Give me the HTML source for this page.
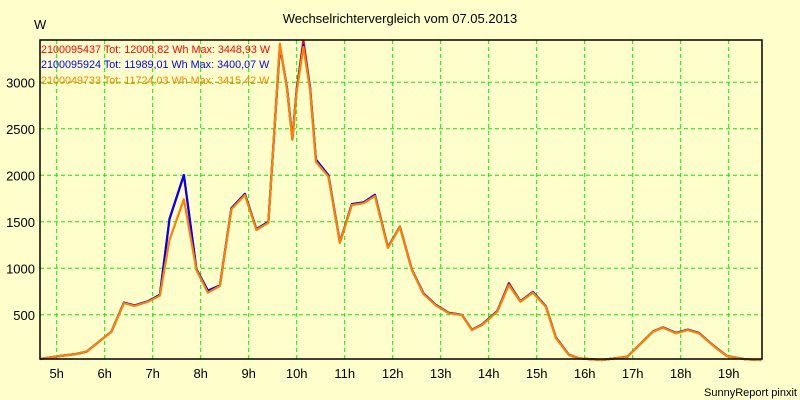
<!DOCTYPE html>
<html><head><meta charset="utf-8"><style>
body{margin:0;background:#ffffcc;}
svg{display:block;font-family:"Liberation Sans",sans-serif;}
</style></head><body>
<svg id="chart" width="800" height="400">
<rect x="0" y="0" width="800" height="400" fill="#ffffcc"/>
<text x="400" y="23" text-anchor="middle" font-size="13" fill="#000">Wechselrichtervergleich vom 07.05.2013</text>
<text x="34" y="29" font-size="13" fill="#000">W</text>
<g id="grid"></g>
<g id="yticks"></g>
<g id="xticks"></g>
<g id="series"></g>
<rect x="40" y="40" width="722" height="319" fill="none" stroke="#000" stroke-width="1.5"/>
<g font-size="10.8">
<text x="41" y="53" fill="#ff0000">2100095437 Tot: 12008,82 Wh Max: 3448,93 W</text>
<text x="41" y="68" fill="#0000ff">2100095924 Tot: 11989,01 Wh Max: 3400,07 W</text>
<text x="41" y="84" fill="#ff8000">2100049733 Tot: 11724,03 Wh Max: 3415,42 W</text>
</g>
<text x="797" y="396" text-anchor="end" font-size="11" fill="#000">SunnyReport pinxit</text>
</svg>
<script>
const times=[4.65,5.07,5.4,5.62,6.14,6.4,6.62,6.9,7.15,7.35,7.65,7.91,8.15,8.4,8.64,8.92,9.16,9.41,9.65,9.7,9.8,9.91,10.0,10.14,10.28,10.4,10.66,10.9,11.15,11.4,11.63,11.9,12.15,12.4,12.64,12.9,13.17,13.44,13.65,13.86,14.18,14.42,14.66,14.92,15.19,15.4,15.67,15.88,16.36,16.89,17.15,17.42,17.63,17.9,18.15,18.38,18.7,18.96,19.35,19.68];
const orangeVals=[25,57,78,103,318,625,595,640,705,1304,1742,982,738,810,1634,1788,1412,1490,3415,3240,2916,2380,2900,3380,2916,2146,1985,1272,1681,1700,1777,1218,1447,980,724,600,516,498,337,390,533,820,641,738,587,250,68,32,14,50,180,318,361,301,336,301,157,57,22,14];
const blueVals=[25,57,78,103,318,630,600,645,715,1530,2003,990,760,815,1645,1800,1420,1500,3390,3240,2930,2390,2920,3400,2940,2170,2000,1280,1690,1710,1790,1225,1450,985,730,605,520,500,340,395,540,830,645,745,592,255,70,32,14,50,182,320,365,305,340,305,160,58,22,14];
const redVals=[25,57,78,103,318,630,600,645,715,1530,2003,990,760,815,1645,1800,1420,1500,3390,3240,2930,2390,2930,3449,2940,2170,2000,1280,1690,1710,1790,1225,1450,985,730,605,520,500,340,395,540,840,645,745,592,255,70,32,14,50,182,320,365,305,340,305,160,58,22,14];
const yTicks=[500,1000,1500,2000,2500,3000];
const xHours=[5,6,7,8,9,10,11,12,13,14,15,16,17,18,19];
const NS="http://www.w3.org/2000/svg";
function xs(h){return 56.7+(h-5)*48;}
function ys(v){return 361.3-v*0.093;}
const grid=document.getElementById('grid'),yt=document.getElementById('yticks'),xt=document.getElementById('xticks'),ser=document.getElementById('series');
yTicks.forEach(v=>{
 const l=document.createElementNS(NS,'line');
 
 
 l.setAttribute('x1',40);l.setAttribute('x2',762);l.setAttribute('y1',ys(v));l.setAttribute('y2',ys(v));
 l.setAttribute('stroke','#00ee00');l.setAttribute('stroke-dasharray','4,3');grid.appendChild(l);
 const t=document.createElementNS(NS,'text');
 
 
 t.setAttribute('x',35);t.setAttribute('y',ys(v)+5);t.setAttribute('text-anchor','end');t.setAttribute('font-size','13');
 t.textContent=v;yt.appendChild(t);
});
xHours.forEach(h=>{
 const l=document.createElementNS(NS,'line');
 
 
 l.setAttribute('x1',xs(h));l.setAttribute('x2',xs(h));l.setAttribute('y1',40);l.setAttribute('y2',359);
 l.setAttribute('stroke','#00ee00');l.setAttribute('stroke-dasharray','4,3');grid.appendChild(l);
 const t=document.createElementNS(NS,'text');
 
 
 t.setAttribute('x',xs(h));t.setAttribute('y',378);t.setAttribute('text-anchor','middle');t.setAttribute('font-size','13');
 t.textContent=h+'h';xt.appendChild(t);
});
[[redVals,'#ff0000','series-red'],[blueVals,'#0000ff','series-blue'],[orangeVals,'#ff8000','series-orange']].forEach(([vals,c,n])=>{
 const p=document.createElementNS(NS,'polyline');
 
 
 p.setAttribute('points',times.map((t,i)=>xs(t).toFixed(1)+','+ys(vals[i]).toFixed(1)).join(' '));
 p.setAttribute('fill','none');p.setAttribute('stroke',c);p.setAttribute('stroke-width','2.2');p.setAttribute('stroke-linejoin','round');
 ser.appendChild(p);
});
</script>
</body></html>
